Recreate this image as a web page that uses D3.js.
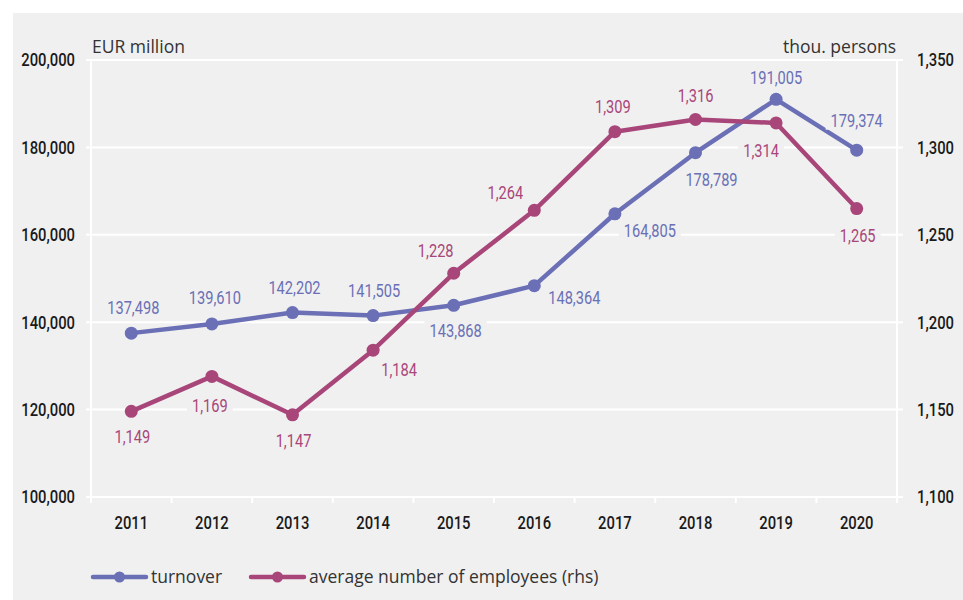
<!DOCTYPE html>
<html>
<head>
<meta charset="utf-8">
<script src="https://cdn.jsdelivr.net/npm/d3@7"></script>
<style>
  html, body { margin: 0; padding: 0; background: #ffffff; }
  svg { display: block; }
  .cond { font-family: Roboto, "Noto Sans", sans-serif; }
  .reg { font-family: "Open Sans", "Noto Sans", sans-serif; }
</style>
</head>
<body>
<svg id="chart" width="963" height="600"></svg>
<script>
// Categories and series
const years = ["2011", "2012", "2013", "2014", "2015", "2016", "2017", "2018", "2019", "2020"];
const turnover = [137498, 139610, 142202, 141505, 143868, 148364, 164805, 178789, 191005, 179374];
const employees = [1149, 1169, 1147, 1184, 1228, 1264, 1309, 1316, 1314, 1265];

// Axis ticks
const leftTicks = [100000, 120000, 140000, 160000, 180000, 200000];
const rightTicks = [1100, 1150, 1200, 1250, 1300, 1350];

// Series names
const seriesNames = ["turnover", "average number of employees (rhs)"];

// Value-label placement relative to each point (dx, dy)
const turnoverLabelPlacement = [[2, -26], [3, -27], [2, -25], [1, -25], [2, 25], [40, 12], [35, 17], [16, 27], [0, -22], [0, -30]];
const employeesLabelPlacement = [[1, 25], [-2, 29], [1, 25], [26, 19], [-18, -23], [-29, -18], [-2, -25], [0, -24], [-15, 27], [1, 27]];

const BLUE = "#6a6fb6";
const RED = "#a8467a";
const BG = "#f0f0f0";
const NARROW = 0.8;   // horizontal squeeze for the condensed number style

const svg = d3.select("#chart");
const fmt = d3.format(",");

// Squeeze text horizontally to a condensed look
function condense(sel, factor) {
  sel.each(function () {
    const len = this.getComputedTextLength();
    d3.select(this).attr("textLength", len * factor).attr("lengthAdjust", "spacingAndGlyphs");
  });
}

// Panel background
svg.append("rect").attr("x", 13).attr("y", 13).attr("width", 950).attr("height", 587).attr("fill", BG);

const plotLeft = 91, plotRight = 897, plotTop = 60, plotBottom = 497;

const x = d3.scaleBand().domain(years).range([plotLeft, plotRight]);
const yL = d3.scaleLinear().domain([100000, 200000]).range([plotBottom, plotTop]);
const yR = d3.scaleLinear().domain([1100, 1350]).range([plotBottom, plotTop]);

// Gridlines
svg.append("g")
  .selectAll("line")
  .data(leftTicks)
  .join("line")
  .attr("x1", plotLeft - 5).attr("x2", plotRight + 6)
  .attr("y1", d => yL(d)).attr("y2", d => yL(d))
  .attr("stroke", "#ffffff").attr("stroke-width", 2);

// Vertical axis lines
[plotLeft, plotRight].forEach(px => {
  svg.append("line")
    .attr("x1", px).attr("x2", px).attr("y1", plotTop).attr("y2", plotBottom + 6)
    .attr("stroke", "#ffffff").attr("stroke-width", 2);
});

// Category boundary ticks
const bounds = years.map(y => x(y)).concat([x.range()[1]]);
svg.append("g").selectAll("line").data(bounds).join("line")
  .attr("x1", d => d).attr("x2", d => d)
  .attr("y1", plotBottom).attr("y2", plotBottom + 6)
  .attr("stroke", "#ffffff").attr("stroke-width", 2);

function styleAxisText(g) {
  g.select(".domain").remove();
  g.attr("font-family", null);
  const t = g.selectAll("text").attr("class", "cond")
    .attr("font-size", 18.5).attr("font-weight", 500).attr("fill", "#1a1a1a");
  condense(t, NARROW);
}

// Left axis labels
const gL = svg.append("g").attr("transform", `translate(${plotLeft},0)`)
  .call(d3.axisLeft(yL).tickValues(leftTicks).tickFormat(fmt).tickSize(0).tickPadding(16));
styleAxisText(gL);

// Right axis labels
const gR = svg.append("g").attr("transform", `translate(${plotRight},0)`)
  .call(d3.axisRight(yR).tickValues(rightTicks).tickFormat(fmt).tickSize(0).tickPadding(20));
styleAxisText(gR);

// Bottom axis labels
const gB = svg.append("g").attr("transform", `translate(0,${plotBottom})`)
  .call(d3.axisBottom(x).tickSize(0).tickPadding(19));
styleAxisText(gB);

// Axis titles
svg.append("text").attr("class", "reg").attr("x", 92).attr("y", 53)
  .attr("font-size", 17.5).attr("fill", "#333").text("EUR million");
svg.append("text").attr("class", "reg").attr("x", 896).attr("y", 53).attr("text-anchor", "end")
  .attr("font-size", 17.5).attr("fill", "#333").text("thou. persons");

const cx = d => x(d) + x.bandwidth() / 2;

function drawSeries(values, yScale, color) {
  const line = d3.line().x((d, i) => cx(years[i])).y(d => yScale(d));
  svg.append("path").datum(values)
    .attr("d", line).attr("fill", "none")
    .attr("stroke", color).attr("stroke-width", 4.5)
    .attr("stroke-linejoin", "round");
  svg.append("g").selectAll("circle").data(values).join("circle")
    .attr("cx", (d, i) => cx(years[i])).attr("cy", d => yScale(d))
    .attr("r", 6.5).attr("fill", color);
}

const LABEL_SIZE = 18.5;

function drawLabels(values, yScale, color, placement) {
  const g = svg.append("g");
  values.forEach((v, i) => {
    const px = cx(years[i]) + placement[i][0];
    const py = yScale(v) + placement[i][1];
    const grp = g.append("g");
    const t = grp.append("text").attr("class", "cond")
      .attr("x", px).attr("y", py).attr("dy", "0.36em")
      .attr("text-anchor", "middle").attr("font-size", LABEL_SIZE)
      .attr("fill", color).text(fmt(v));
    condense(t, 0.79);
    const bb = t.node().getBBox();
    const h = LABEL_SIZE * 0.711 + 6;
    grp.insert("rect", "text")
      .attr("x", bb.x - 5).attr("y", py - h / 2)
      .attr("width", bb.width + 10).attr("height", h)
      .attr("fill", BG);
  });
}

drawSeries(turnover, yL, BLUE);
drawSeries(employees, yR, RED);
drawLabels(turnover, yL, BLUE, turnoverLabelPlacement);
drawLabels(employees, yR, RED, employeesLabelPlacement);

// Legend
const legend = [
  { name: seriesNames[0], color: BLUE, x0: 93 },
  { name: seriesNames[1], color: RED, x0: 251 }
];
const ly = 577;
legend.forEach(it => {
  svg.append("line").attr("x1", it.x0).attr("x2", it.x0 + 53)
    .attr("y1", ly).attr("y2", ly)
    .attr("stroke", it.color).attr("stroke-width", 4.5).attr("stroke-linecap", "round");
  svg.append("circle").attr("cx", it.x0 + 26.5).attr("cy", ly).attr("r", 5.5).attr("fill", it.color);
  svg.append("text").attr("class", "reg").attr("x", it.x0 + 58).attr("y", ly).attr("dy", "0.35em")
    .attr("font-size", 17.5).attr("fill", "#333").text(it.name);
});
</script>
</body>
</html>
